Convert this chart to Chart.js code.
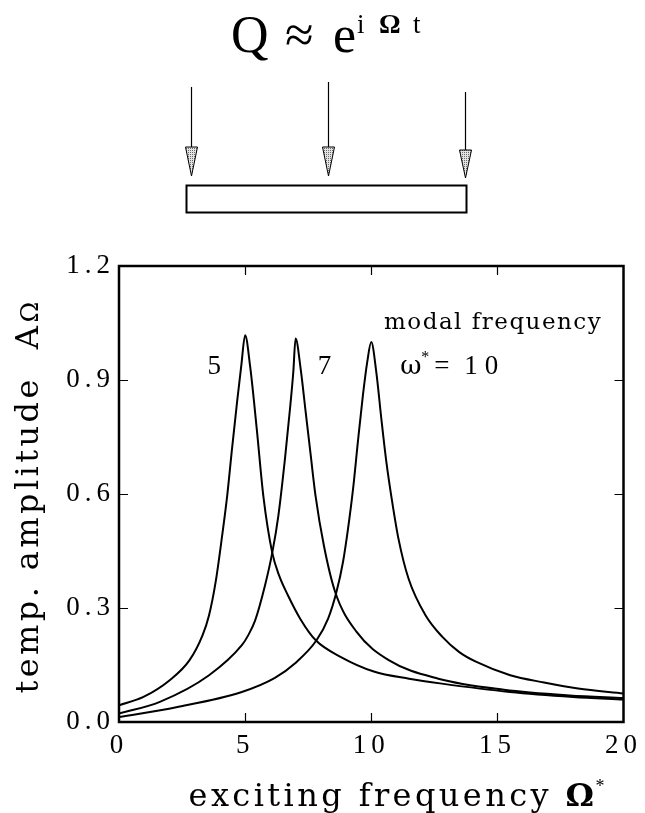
<!DOCTYPE html>
<html>
<head>
<meta charset="utf-8">
<script src="https://cdn.jsdelivr.net/npm/chart.js@4/dist/chart.umd.min.js"></script>
<style>
  html, body { margin: 0; padding: 0; background: #fff; }
  #chart { display: block; }
</style>
</head>
<body>
<canvas id="chart" width="645" height="813"></canvas>
<script>
// Temperature amplitude response for three modal frequencies (ω* = 5, 7, 10)
const omega5 = [0, 0.97, 2.01, 2.79, 3.31, 3.57, 3.83, 4.09, 4.29, 4.48, 4.68, 4.85, 5,
                5.2, 5.46, 5.72, 6.07, 6.35, 6.7, 7.2, 7.8, 8.8, 10.1, 11.5, 12.8, 15.5, 18, 20];
const amp5   = [0.044, 0.066, 0.110, 0.162, 0.228, 0.281, 0.368, 0.491, 0.596, 0.719, 0.842, 0.939, 1.018,
                0.935, 0.772, 0.596, 0.447, 0.385, 0.333, 0.270, 0.215, 0.171, 0.133, 0.114, 0.101, 0.079, 0.066, 0.059];

const omega7 = [0, 1.62, 3.57, 4.87, 5.12, 5.39, 5.79, 6.08, 6.32, 6.58, 6.78, 6.91, 7,
                7.2, 7.4, 7.6, 7.79, 8.12, 8.57, 9.42, 10.71, 12.66, 15.26, 17.86, 20];
const amp7   = [0.022, 0.053, 0.123, 0.202, 0.228, 0.266, 0.360, 0.447, 0.544, 0.693, 0.825, 0.921, 1.009,
                0.930, 0.816, 0.702, 0.596, 0.465, 0.342, 0.237, 0.162, 0.114, 0.085, 0.070, 0.063];

const omega10 = [0, 2.27, 4.87, 6.18, 6.97, 7.83, 8.29, 8.62, 8.88, 9.08, 9.28, 9.47, 9.67, 9.84, 10,
                 10.2, 10.4, 10.6, 10.81, 11.08, 11.48, 12.15, 12.82, 13.49, 14.17, 15.51, 16.85, 18.2, 20];
const amp10   = [0.013, 0.039, 0.079, 0.116, 0.154, 0.215, 0.272, 0.342, 0.421, 0.509, 0.614, 0.737, 0.860, 0.947, 1.0,
                 0.921, 0.798, 0.684, 0.588, 0.482, 0.377, 0.281, 0.224, 0.184, 0.158, 0.123, 0.104, 0.088, 0.075];

const modalFrequencies = [5, 7, 10];
const xTickValues = [0, 5, 10, 15, 20];
const yTickValues = [0, 0.3, 0.6, 0.9, 1.2];

const toPoints = (xs, ys) => xs.map((x, i) => ({ x, y: ys[i] }));

const seriesStyle = {
  borderColor: '#000',
  borderWidth: 2,
  pointRadius: 0,
  fill: false,
  cubicInterpolationMode: 'monotone'
};

// fine dot screen used for the arrow heads
function stipple(ctx) {
  const p = document.createElement('canvas');
  p.width = 2; p.height = 2;
  const c = p.getContext('2d');
  c.fillStyle = '#e4e4e4';
  c.fillRect(0, 0, 2, 2);
  c.fillStyle = '#6a6a6a';
  c.fillRect(0, 0, 1, 1);
  return ctx.createPattern(p, 'repeat');
}

const tickFont = '"Liberation Serif", "Times New Roman", serif';
const textFont = '"DejaVu Serif", serif';

const spacingPlugin = {
  id: 'spacing',
  beforeDraw(chart) {
    chart.ctx.letterSpacing = '5px';
  }
};

const decorPlugin = {
  id: 'decor',
  afterDraw(chart) {
    const ctx = chart.ctx;
    const a = chart.chartArea;
    const xs = chart.scales.x, ys = chart.scales.y;
    ctx.save();
    ctx.letterSpacing = '0px';
    ctx.fillStyle = '#000';
    ctx.strokeStyle = '#000';

    // frame
    ctx.lineWidth = 2.5;
    ctx.strokeRect(a.left, a.top, a.right - a.left, a.bottom - a.top);

    // inward ticks on all four sides
    ctx.lineWidth = 1.2;
    ctx.beginPath();
    xTickValues.slice(1, -1).forEach(v => {
      const px = Math.round(xs.getPixelForValue(v)) + 0.5;
      ctx.moveTo(px, a.bottom); ctx.lineTo(px, a.bottom - 9);
      ctx.moveTo(px, a.top); ctx.lineTo(px, a.top + 9);
    });
    yTickValues.slice(1, -1).forEach(v => {
      const py = Math.round(ys.getPixelForValue(v)) + 0.5;
      ctx.moveTo(a.left, py); ctx.lineTo(a.left + 9, py);
      ctx.moveTo(a.right, py); ctx.lineTo(a.right - 9, py);
    });
    ctx.stroke();

    // header: excitation formula, loads and beam
    ctx.textBaseline = 'alphabetic';
    ctx.textAlign = 'left';
    ctx.font = '52px ' + tickFont;
    ctx.fillText('Q', 231, 52);
    ctx.fillText('≈', 285, 52);
    ctx.fillText('e', 333, 52);
    ctx.font = '27px ' + tickFont;
    ctx.fillText('i', 357, 33);
    ctx.font = 'bold 27px ' + tickFont;
    ctx.fillText('Ω', 379, 33);
    ctx.font = '27px ' + tickFont;
    ctx.fillText('t', 413, 33);

    const pat = stipple(ctx);
    [[191, 87, 147, 176], [328, 82, 147, 176], [465, 92, 150, 178]].forEach(([x, y0, yh, tip]) => {
      ctx.lineWidth = 1.2;
      ctx.beginPath();
      ctx.moveTo(x + 0.5, y0); ctx.lineTo(x + 0.5, yh);
      ctx.stroke();
      ctx.beginPath();
      ctx.moveTo(x - 5.5, yh);
      ctx.lineTo(x + 6.5, yh);
      ctx.lineTo(x + 0.5, tip);
      ctx.closePath();
      ctx.fillStyle = pat;
      ctx.fill();
      ctx.lineWidth = 1;
      ctx.stroke();
    });
    ctx.fillStyle = '#000';
    ctx.lineWidth = 2;
    ctx.strokeRect(186.5, 185.5, 280, 27);

    // curve labels
    ctx.font = '27px ' + tickFont;
    ctx.letterSpacing = '0px';
    const yLab = 374;
    ctx.textAlign = 'center';
    ctx.fillText(String(modalFrequencies[0]), xs.getPixelForValue(modalFrequencies[0]) - 31, yLab);
    ctx.fillText(String(modalFrequencies[1]), xs.getPixelForValue(modalFrequencies[1]) + 29, yLab);
    ctx.textAlign = 'left';
    const x10 = xs.getPixelForValue(modalFrequencies[2]);
    ctx.font = '26px ' + textFont;
    ctx.fillText('ω', x10 + 29, yLab);
    ctx.font = '16px ' + tickFont;
    ctx.fillText('*', x10 + 50, yLab - 12);
    ctx.font = '27px ' + tickFont;
    ctx.fillText('=', x10 + 63, yLab);
    ctx.letterSpacing = '7px';
    ctx.fillText(String(modalFrequencies[2]), x10 + 93, yLab);

    ctx.font = '23px ' + textFont;
    ctx.letterSpacing = '1.5px';
    ctx.fillText('modal frequency', 384, 329);

    // axis titles
    ctx.letterSpacing = '3.4px';
    const xt1 = 'exciting frequency ';
    ctx.font = '32px ' + textFont;
    const w1 = ctx.measureText(xt1).width;
    ctx.font = 'bold 32px ' + textFont;
    const w2 = ctx.measureText('Ω').width;
    const x0 = 397 - (w1 + w2 + 8) / 2;
    ctx.font = '32px ' + textFont;
    ctx.fillText(xt1, x0, 806);
    ctx.font = 'bold 32px ' + textFont;
    ctx.fillText('Ω', x0 + w1, 806);
    ctx.font = '18px ' + tickFont;
    ctx.fillText('*', x0 + w1 + w2 - 2, 792);

    ctx.save();
    ctx.translate(38, 496);
    ctx.rotate(-Math.PI / 2);
    ctx.letterSpacing = '3.4px';
    ctx.font = '32px ' + textFont;
    const yt1 = 'temp. amplitude  A';
    const wy1 = ctx.measureText(yt1).width;
    ctx.font = '25px ' + textFont;
    const wy2 = ctx.measureText('Ω').width;
    const y0 = -(wy1 + wy2) / 2;
    ctx.font = '32px ' + textFont;
    ctx.fillText(yt1, y0, 0);
    ctx.font = '25px ' + textFont;
    ctx.fillText('Ω', y0 + wy1, 0);
    ctx.restore();

    ctx.restore();
  }
};

new Chart(document.getElementById('chart'), {
  type: 'line',
  data: {
    datasets: [
      { label: 'ω* = 5', data: toPoints(omega5, amp5), ...seriesStyle },
      { label: 'ω* = 7', data: toPoints(omega7, amp7), ...seriesStyle },
      { label: 'ω* = 10', data: toPoints(omega10, amp10), ...seriesStyle }
    ]
  },
  options: {
    responsive: false,
    animation: false,
    devicePixelRatio: 1,
    layout: { padding: { top: 266, right: 18, left: 0, bottom: 0 } },
    plugins: { legend: { display: false }, tooltip: { enabled: false } },
    scales: {
      x: {
        type: 'linear',
        min: 0, max: 20,
        afterBuildTicks: s => { s.ticks = xTickValues.map(v => ({ value: v })); },
        ticks: {
          color: '#000',
          font: { family: tickFont, size: 27 },
          padding: 8,
          maxRotation: 0,
          callback: v => String(v)
        },
        grid: { display: false, drawTicks: false },
        border: { display: false },
        afterFit: s => { s.height = 91; }
      },
      y: {
        type: 'linear',
        min: 0, max: 1.2,
        afterBuildTicks: s => { s.ticks = yTickValues.map(v => ({ value: v })); },
        ticks: {
          color: '#000',
          font: { family: tickFont, size: 27 },
          padding: 4,
          callback: v => Number(v).toFixed(1)
        },
        grid: { display: false, drawTicks: false },
        border: { display: false },
        afterFit: s => { s.width = 119; }
      }
    }
  },
  plugins: [spacingPlugin, decorPlugin]
});
</script>
</body>
</html>
